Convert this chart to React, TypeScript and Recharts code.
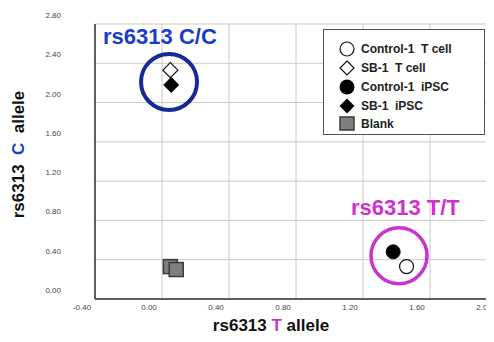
import React from 'react';
import {
    ScatterChart,
    Scatter,
    XAxis,
    YAxis,
    CartesianGrid,
    Legend,
    ReferenceDot,
    Label,
} from 'recharts';

// Values (T allele on x, C allele on y)
const controlTCell = [{ x: 1.46, y: 0.33 }];
const sb1TCell = [{ x: 0.05, y: 2.33 }];
const controlIpsc = [{ x: 1.38, y: 0.48 }];
const sb1Ipsc = [{ x: 0.055, y: 2.18 }];
const blank = [
    { x: 0.05, y: 0.33 },
    { x: 0.085, y: 0.3 },
];

const seriesNames = ['Control-1  T cell', 'SB-1  T cell', 'Control-1  iPSC', 'SB-1  iPSC', 'Blank'];

const xTicks = [-0.4, 0, 0.4, 0.8, 1.2, 1.6, 2.0];
const yTicks = [0, 0.4, 0.8, 1.2, 1.6, 2.0, 2.4, 2.8];

// genotype cluster call-outs (data coords)
const ccCluster = { x: 0.042, y: 2.21, label: 'rs6313 C/C', labelX: -0.352, labelY: 2.6 };
const ttCluster = { x: 1.415, y: 0.44, label: 'rs6313 T/T', labelX: 1.128, labelY: 0.855 };

const BLUE = '#1a3cc8';
const NAVY = '#15299a';
const MAGENTA = '#cc33cc';

const OpenCircle = (props: any) => (
    <circle cx={props.cx} cy={props.cy} r={7} fill="#fff" stroke="#111" strokeWidth={1.2} />
);
const FilledCircle = (props: any) => (
    <circle cx={props.cx} cy={props.cy} r={7} fill="#000" stroke="#000" strokeWidth={1} />
);
const diamondPath = (cx: number, cy: number, h: number) =>
    `M${cx},${cy - h}L${cx + h},${cy}L${cx},${cy + h}L${cx - h},${cy}Z`;
const OpenDiamond = (props: any) => (
    <path d={diamondPath(props.cx, props.cy, 7.5)} fill="#fff" stroke="#111" strokeWidth={1.2} />
);
const FilledDiamond = (props: any) => (
    <path d={diamondPath(props.cx, props.cy, 7.5)} fill="#000" stroke="#000" strokeWidth={1} />
);
const GraySquare = (props: any) => (
    <rect x={props.cx - 7} y={props.cy - 7} width={14} height={14} fill="#7f7f7f" stroke="#3a3a3a" strokeWidth={1.5} />
);

const legendIcons = [
    <circle cx={8} cy={8} r={7} fill="#fff" stroke="#111" strokeWidth={1.2} />,
    <path d={diamondPath(8, 8, 7)} fill="#fff" stroke="#111" strokeWidth={1.2} />,
    <circle cx={8} cy={8} r={7.5} fill="#000" />,
    <path d={diamondPath(8, 8, 7.5)} fill="#000" />,
    <rect x={1} y={1} width={14} height={13} fill="#7f7f7f" stroke="#3a3a3a" strokeWidth={1.5} />,
];

const renderLegend = () => (
    <div
        style={{
            boxSizing: 'border-box',
            width: 162,
            height: 106,
            border: '1.5px solid #555',
            background: '#fff',
            paddingTop: 10,
            paddingLeft: 15,
            fontFamily: '"Liberation Sans", Arial, sans-serif',
            fontWeight: 'bold',
            fontSize: 12,
            color: '#222',
        }}
    >
        {seriesNames.map((name, i) => (
            <div key={name} style={{ display: 'flex', alignItems: 'center', height: 18.75 }}>
                <svg width={16} height={16} style={{ marginRight: 6 }}>
                    {legendIcons[i]}
                </svg>
                <span style={{ whiteSpace: 'pre' }}>{name}</span>
            </div>
        ))}
    </div>
);

const XTick = (props: any) => (
    <text x={props.x - 13} y={props.y + 3} textAnchor="middle" fontSize={8} fill="#444"
        fontFamily='"Liberation Sans", Arial, sans-serif'>
        {props.payload.value.toFixed(2)}
    </text>
);

const YTick = (props: any) => (
    <text x={props.x - 26} y={props.y - 6} textAnchor="end" fontSize={8} fill="#444"
        fontFamily='"Liberation Sans", Arial, sans-serif'>
        {props.payload.value.toFixed(2)}
    </text>
);

const ringShape = (color: string, width: number) => (props: any) => (
    <circle cx={props.cx} cy={props.cy} r={28} fill="none" stroke={color} strokeWidth={width} />
);

const textShape = (text: string, color: string) => (props: any) => (
    <text x={props.cx} y={props.cy} fill={color} fontSize={22} fontWeight="bold"
        fontFamily='"Liberation Sans", Arial, sans-serif'>
        {text}
    </text>
);

const App: React.FC = () => {
    return (
        <div style={{ margin: -8, width: 494, height: 342, overflow: 'hidden', position: 'relative', background: '#fff' }}>
            <ScatterChart width={500} height={342} margin={{ top: 24, right: 3, bottom: 0, left: 35 }}>
                <CartesianGrid stroke="#c8c8c8" strokeWidth={1} />
                <XAxis
                    type="number"
                    dataKey="x"
                    domain={[-0.4, 2.0]}
                    ticks={xTicks}
                    interval={0}
                    tickLine={false}
                    axisLine={{ stroke: '#333', strokeWidth: 1.5 }}
                    tick={<XTick />}
                    height={43}
                    allowDataOverflow
                >
                    <Label
                        content={({ viewBox }: any) => (
                            <text x={viewBox.x + viewBox.width / 2 - 25} y={viewBox.y + 32} textAnchor="middle"
                                fontSize={17} fontWeight="bold" fill="#111" style={{ whiteSpace: 'pre' }}
                                fontFamily='"Liberation Sans", Arial, sans-serif'>
                                rs6313 <tspan fill={MAGENTA}>T</tspan> allele
                            </text>
                        )}
                    />
                </XAxis>
                <YAxis
                    type="number"
                    dataKey="y"
                    domain={[0, 2.8]}
                    ticks={yTicks}
                    interval={0}
                    tickLine={false}
                    axisLine={{ stroke: '#333', strokeWidth: 1.5 }}
                    tick={<YTick />}
                    width={60}
                    allowDataOverflow
                >
                    <Label
                        content={({ viewBox }: any) => {
                            const cx = viewBox.x - 17;
                            const cy = viewBox.y + viewBox.height / 2 - 7;
                            return (
                                <text x={cx} y={cy} transform={`rotate(-90 ${cx} ${cy})`} textAnchor="middle"
                                    dominantBaseline="central" fontSize={17} fontWeight="bold" fill="#111"
                                    style={{ whiteSpace: 'pre' }}
                                    fontFamily='"Liberation Sans", Arial, sans-serif'>
                                    rs6313  <tspan fill={BLUE}>C</tspan>  allele
                                </text>
                            );
                        }}
                    />
                </YAxis>

                <ReferenceDot x={ccCluster.x} y={ccCluster.y} r={28} shape={ringShape(NAVY, 4)} ifOverflow="visible" />
                <ReferenceDot x={ttCluster.x} y={ttCluster.y} r={28} shape={ringShape(MAGENTA, 3.5)} ifOverflow="visible" />
                <ReferenceDot x={ccCluster.labelX} y={ccCluster.labelY} shape={textShape(ccCluster.label, BLUE)} ifOverflow="visible" />
                <ReferenceDot x={ttCluster.labelX} y={ttCluster.labelY} shape={textShape(ttCluster.label, MAGENTA)} ifOverflow="visible" />

                <Scatter name={seriesNames[0]} data={controlTCell} shape={<OpenCircle />} isAnimationActive={false} />
                <Scatter name={seriesNames[1]} data={sb1TCell} shape={<OpenDiamond />} isAnimationActive={false} />
                <Scatter name={seriesNames[2]} data={controlIpsc} shape={<FilledCircle />} isAnimationActive={false} />
                <Scatter name={seriesNames[3]} data={sb1Ipsc} shape={<FilledDiamond />} isAnimationActive={false} />
                <Scatter name={seriesNames[4]} data={blank} shape={<GraySquare />} isAnimationActive={false} />

                <Legend
                    layout="vertical"
                    align="center"
                    verticalAlign="middle"
                    content={renderLegend}
                    wrapperStyle={{ top: 29, left: 323, width: 162, height: 106 }}
                />
            </ScatterChart>
        </div>
    );
};

export default App;
